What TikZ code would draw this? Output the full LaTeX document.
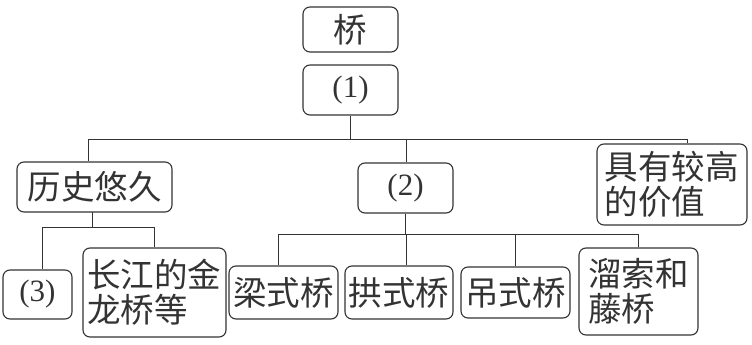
\documentclass[tikz,border=0pt]{standalone}
\usepackage{fontspec}
\setmainfont{Liberation Serif}
\newfontfamily\cjk{Noto Sans CJK SC}
\definecolor{ink}{HTML}{333333}
\begin{document}
\begin{tikzpicture}[x=1pt,y=-1pt,
  box/.style={draw=ink, line width=1.1pt, rounded corners=7pt, inner sep=0pt, text=ink},
  zh/.style={font=\cjk\fontsize{33.5}{35}\selectfont},
  num/.style={font=\fontsize{31}{34}\selectfont},
  link/.style={draw=ink, line width=1pt}]
\useasboundingbox (0,0) rectangle (752,345);
\node[box,zh,minimum width=95pt,minimum height=45pt] (qiao) at (350.5,29.5) {桥};
\node[box,num,minimum width=95pt,minimum height=50pt] (n1) at (350.5,90) {(1)};
\node[box,zh,minimum width=155pt,minimum height=50pt] (lishi) at (94.5,187) {历史悠久};
\node[box,num,minimum width=95pt,minimum height=50pt] (n2) at (405.5,188) {(2)};
\node[box,zh,minimum width=150pt,minimum height=81pt,text width=135pt,align=left] (jiazhi) at (672,184.5) {具有较高\\的价值};
\node[box,num,minimum width=69pt,minimum height=49pt] (n3) at (37.5,294.5) {(3)};
\node[box,zh,minimum width=143pt,minimum height=89pt,text width=135pt,align=left] (cj) at (154.5,292.5) {长江的金\\龙桥等};
\node[box,zh,minimum width=109pt,minimum height=53pt] (liang) at (283.5,292.5) {梁式桥};
\node[box,zh,minimum width=108pt,minimum height=53pt] (gong) at (399,292.5) {拱式桥};
\node[box,zh,minimum width=109pt,minimum height=51pt] (diao) at (515.5,292.5) {吊式桥};
\node[box,zh,minimum width=119pt,minimum height=87pt,text width=101pt,align=left] (ls) at (638.5,291.5) {溜索和\\藤桥};
% bus 1
\coordinate (b1a) at (88,139);
\coordinate (b1b) at (406,139);
\coordinate (b1c) at (687,139);
\draw[link] (n1.south) -- (n1.south |- b1a);
\draw[link] (b1a) -- (b1c);
\draw[link] (b1a) -- (b1a |- lishi.north);
\draw[link] (b1b) -- (b1b |- n2.north);
\draw[link] (b1c) -- (b1c |- jiazhi.north);
% bus 2
\coordinate (b2s) at (92,212);
\coordinate (b2m) at (92,227);
\coordinate (b2a) at (42,227);
\coordinate (b2b) at (154,227);
\draw[link] (b2s) -- (b2m);
\draw[link] (b2a) -- (b2b);
\draw[link] (b2a) -- (b2a |- n3.north);
\draw[link] (b2b) -- (b2b |- cj.north);
% bus 3
\coordinate (b3a) at (278,234);
\coordinate (b3b) at (406,234);
\coordinate (b3c) at (515,234);
\coordinate (b3d) at (638,234);
\draw[link] (n2.south) -- (n2.south |- b3b);
\draw[link] (b3a) -- (b3d);
\draw[link] (b3a) -- (b3a |- liang.north);
\draw[link] (b3b) -- (b3b |- gong.north);
\draw[link] (b3c) -- (b3c |- diao.north);
\draw[link] (b3d) -- (b3d |- ls.north);
\end{tikzpicture}
\end{document}
